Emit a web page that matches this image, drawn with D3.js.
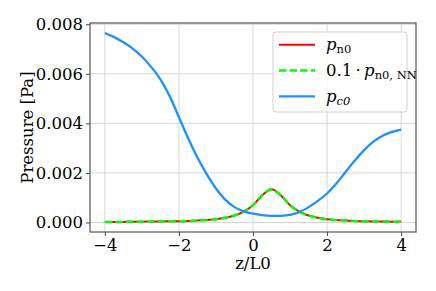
<!DOCTYPE html>
<html>
<head>
<meta charset="utf-8">
<script src="https://cdn.jsdelivr.net/npm/d3@7"></script>
<style>
	body { margin: 0; background: #fff; }
	text { font-family: "DejaVu Serif", serif; fill: #000; }
	.grid line { stroke: #d6d6d6; stroke-width: 1; }
	.axis path { display: none; }
	.axis line { stroke: #444; }
</style>
</head>
<body>
<script>
//DATA
var zVals = [-4, -3.75, -3.5, -3.25, -3, -2.75, -2.5, -2.25, -2, -1.75, -1.5, -1.25, -1, -0.75, -0.5, -0.25,
	0, 0.25, 0.5, 0.75, 1, 1.25, 1.5, 1.75, 2, 2.25, 2.5, 2.75, 3, 3.25, 3.5, 3.75, 4];

//neutral pressure p_n0
var pn0 = [0.00002, 0.00002, 0.00002, 0.00003, 0.00003, 0.00004, 0.00004, 0.00005, 0.00005, 0.00006, 0.00008, 0.00010, 0.00013, 0.00019, 0.00028, 0.00044,
	0.00070, 0.00110, 0.00134, 0.00110, 0.00070, 0.00044, 0.00028, 0.00019, 0.00013, 0.00010, 0.00008, 0.00006, 0.00005, 0.00004, 0.00004, 0.00003, 0.00003];

//0.1 * p_n0,NN (sits on top of p_n0)
var pnn = [0.00002, 0.00002, 0.00002, 0.00003, 0.00003, 0.00004, 0.00004, 0.00005, 0.00005, 0.00006, 0.00008, 0.00010, 0.00013, 0.00019, 0.00028, 0.00044,
	0.00070, 0.00110, 0.00134, 0.00110, 0.00070, 0.00044, 0.00028, 0.00019, 0.00013, 0.00010, 0.00008, 0.00006, 0.00005, 0.00004, 0.00004, 0.00003, 0.00003];

//charged pressure p_c0
var pc0 = [0.00765, 0.00748, 0.00727, 0.00702, 0.00670, 0.00628, 0.00578, 0.00510, 0.00425, 0.00340, 0.00262, 0.00195, 0.00137, 0.00092, 0.00062, 0.00045,
	0.00036, 0.00030, 0.00027, 0.00027, 0.00031, 0.00042, 0.00062, 0.00087, 0.00117, 0.00157, 0.00204, 0.00250, 0.00292, 0.00326, 0.00350, 0.00366, 0.00375];

var xTicks = [-4, -2, 0, 2, 4];
var yTicks = [0, 0.002, 0.004, 0.006, 0.008];

window.onload = drawChart();

function drawChart(){

	//SVG CANVAS
	var w = 436;
	var h = 291;
	var mLeft = 90, mRight = 416, mTop = 23, mBottom = 232;
	var fs = 16.5;

	var svg = d3.select("body")
		.append("svg")
		.attr("width", w)
		.attr("height", h);

	//scales, matplotlib style 5% padding
	var x = d3.scaleLinear().domain([-4.4, 4.4]).range([mLeft, mRight]);
	var y = d3.scaleLinear().domain([-0.000384, 0.008051]).range([mBottom, mTop]);

	//grid lines
	svg.append("g").attr("class", "grid")
		.selectAll("line")
		.data(xTicks).enter()
		.append("line")
		.attr("x1", function(d){ return x(d); })
		.attr("x2", function(d){ return x(d); })
		.attr("y1", mTop).attr("y2", mBottom);

	svg.append("g").attr("class", "grid")
		.selectAll("line")
		.data(yTicks).enter()
		.append("line")
		.attr("y1", function(d){ return y(d); })
		.attr("y2", function(d){ return y(d); })
		.attr("x1", mLeft).attr("x2", mRight);

	//axes
	svg.append("g")
		.attr("class", "axis")
		.attr("transform", "translate(0," + mBottom + ")")
		.call(d3.axisBottom(x).tickValues(xTicks).tickSize(4).tickPadding(3)
			.tickFormat(function(d){ return d < 0 ? "\u2212" + Math.abs(d) : d; }));

	svg.append("g")
		.attr("class", "axis")
		.attr("transform", "translate(" + mLeft + ",0)")
		.call(d3.axisLeft(y).tickValues(yTicks).tickSize(4).tickPadding(3)
			.tickFormat(d3.format(".3f")));

	svg.selectAll(".axis text")
		.style("font-size", fs + "px")
		.style("font-family", "'DejaVu Serif', serif");

	//curves
	var line = d3.line()
		.x(function(d){ return x(d[0]); })
		.y(function(d){ return y(d[1]); })
		.curve(d3.curveCatmullRom.alpha(0.5));

	var plot = svg.append("g");

	plot.append("path")
		.datum(d3.zip(zVals, pn0))
		.attr("d", line)
		.attr("fill", "none")
		.attr("stroke", "#ff0000")
		.attr("stroke-width", 2);

	plot.append("path")
		.datum(d3.zip(zVals, pnn))
		.attr("d", line)
		.attr("fill", "none")
		.attr("stroke", "#00ff00")
		.attr("stroke-width", 2.5)
		.attr("stroke-dasharray", "7.4,3.2");

	plot.append("path")
		.datum(d3.zip(zVals, pc0))
		.attr("d", line)
		.attr("fill", "none")
		.attr("stroke", "#1e90ff")
		.attr("stroke-width", 2.3);

	//frame
	svg.append("rect")
		.attr("x", mLeft).attr("y", mTop)
		.attr("width", mRight - mLeft).attr("height", mBottom - mTop)
		.attr("fill", "none")
		.attr("stroke", "#555")
		.attr("stroke-width", 1.2);

	//labels
	svg.append("text")
		.attr("x", (mLeft + mRight) / 2)
		.attr("y", 269)
		.attr("text-anchor", "middle")
		.style("font-size", fs + "px")
		.text("z/L0");

	svg.append("text")
		.attr("transform", "translate(33," + ((mTop + mBottom) / 2) + ") rotate(-90)")
		.attr("text-anchor", "middle")
		.style("font-size", fs + "px")
		.text("Pressure [Pa]");

	//LEGEND
	var legend = svg.append("g");

	legend.append("rect")
		.attr("x", 273).attr("y", 32)
		.attr("width", 134).attr("height", 80)
		.attr("rx", 3)
		.attr("fill", "#fff")
		.attr("fill-opacity", 0.8)
		.attr("stroke", "#d0d0d0");

	var legItems = [
		{color: "#ff0000", dash: null, width: 2, main: "p", sub: "n0", pre: ""},
		{color: "#00ff00", dash: "7.4,3.2", width: 2.5, main: "p", sub: "n0, NN", pre: "0.1\u2009\u00b7\u2009"},
		{color: "#1e90ff", dash: null, width: 2.3, main: "p", sub: "c0", pre: ""}
	];

	var rows = legend.selectAll("g")
		.data(legItems).enter()
		.append("g")
		.attr("transform", function(d, i){ return "translate(0," + (44.7 + i * 25.8) + ")"; });

	rows.append("line")
		.attr("x1", 279).attr("x2", 315)
		.attr("stroke", function(d){ return d.color; })
		.attr("stroke-width", function(d){ return d.width; })
		.attr("stroke-dasharray", function(d){ return d.dash; });

	var lt = rows.append("text")
		.attr("x", 326)
		.attr("y", 5.5)
		.style("font-size", fs + "px");

	lt.append("tspan").text(function(d){ return d.pre; });
	lt.append("tspan").style("font-style", "italic").text(function(d){ return d.main; });
	lt.append("tspan")
		.attr("dy", 3)
		.style("font-size", "11.5px")
		.style("font-style", function(d){ return d.sub == "c0" ? "italic" : "normal"; })
		.text(function(d){ return d.sub; });
};
</script>
</body>
</html>
